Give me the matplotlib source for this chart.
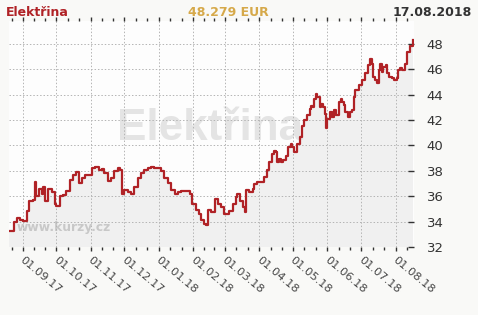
import matplotlib
matplotlib.use("Agg")
import matplotlib.pyplot as plt
import matplotlib.dates as mdates
import matplotlib.transforms as mtransforms
import pandas as pd

dates = [
"2017-08-20","2017-08-24","2017-08-27","2017-08-30","2017-09-01","2017-09-05","2017-09-07","2017-09-10",
"2017-09-12","2017-09-13","2017-09-16","2017-09-18","2017-09-19","2017-09-21","2017-09-24","2017-09-27",
"2017-09-30","2017-10-01","2017-10-04","2017-10-07","2017-10-10","2017-10-13","2017-10-16","2017-10-19",
"2017-10-21","2017-10-24","2017-10-27","2017-10-30","2017-11-02","2017-11-05","2017-11-08","2017-11-11",
"2017-11-13","2017-11-16","2017-11-19","2017-11-22","2017-11-25","2017-11-27","2017-11-29","2017-12-01",
"2017-12-04","2017-12-07","2017-12-10","2017-12-13","2017-12-16","2017-12-19","2017-12-22","2017-12-25",
"2017-12-28","2017-12-31","2018-01-03","2018-01-06","2018-01-09","2018-01-12","2018-01-15","2018-01-18",
"2018-01-21","2018-01-24","2018-01-27","2018-01-29","2018-01-31","2018-02-03","2018-02-06","2018-02-08",
"2018-02-10","2018-02-12","2018-02-14","2018-02-17","2018-02-20","2018-02-23","2018-02-26","2018-02-28",
"2018-03-05","2018-03-08","2018-03-11","2018-03-12","2018-03-15","2018-03-17","2018-03-19","2018-03-20",
"2018-03-23","2018-03-26","2018-03-27","2018-03-30","2018-04-02","2018-04-05","2018-04-08","2018-04-10",
"2018-04-12","2018-04-14","2018-04-16","2018-04-17","2018-04-19","2018-04-20","2018-04-22","2018-04-25",
"2018-04-27","2018-04-29","2018-04-30","2018-05-02","2018-05-05","2018-05-07","2018-05-09","2018-05-11",
"2018-05-14","2018-05-16","2018-05-17","2018-05-19","2018-05-20","2018-05-22","2018-05-23","2018-05-25",
"2018-05-26","2018-05-28","2018-05-30","2018-05-31","2018-06-01","2018-06-03","2018-06-05","2018-06-07",
"2018-06-09","2018-06-11","2018-06-13","2018-06-14","2018-06-16","2018-06-17","2018-06-19","2018-06-21",
"2018-06-23","2018-06-25","2018-06-26","2018-06-29","2018-07-02","2018-07-05","2018-07-07","2018-07-09",
"2018-07-11","2018-07-12","2018-07-14","2018-07-15","2018-07-17","2018-07-18","2018-07-20","2018-07-21",
"2018-07-23","2018-07-24","2018-07-26","2018-07-29","2018-07-31","2018-08-02","2018-08-03","2018-08-05",
"2018-08-07","2018-08-09","2018-08-11","2018-08-14","2018-08-17",
]
values = [
33.26,34.0,34.26,34.1,34.05,34.8,35.6,35.7,
37.15,36.0,36.55,36.2,36.7,35.6,36.55,36.3,
35.4,35.2,36.0,36.1,36.4,37.3,37.7,37.9,
37.05,37.45,37.7,37.7,38.2,38.3,38.1,38.15,
37.85,37.2,37.45,37.95,38.2,38.1,36.2,36.5,
36.35,36.2,36.7,37.45,37.85,38.1,38.25,38.3,
38.25,38.25,37.95,37.45,37.05,36.5,36.2,36.35,
36.45,36.45,36.45,36.2,35.4,34.9,34.6,34.1,
33.8,33.7,34.9,34.75,35.8,35.4,35.15,34.6,
34.85,35.4,35.95,36.2,35.65,35.15,34.75,36.5,
36.35,36.6,37.0,37.1,37.1,37.5,38.05,38.7,
39.35,39.55,39.5,38.7,38.95,38.7,38.85,39.2,
39.9,40.15,39.9,39.5,40.15,40.7,41.5,42.0,
42.4,42.9,43.1,43.05,43.7,44.05,43.8,43.05,
43.3,43.05,42.5,41.35,42.1,42.65,42.25,42.8,
42.4,43.45,43.7,43.45,43.2,42.65,42.25,42.65,
42.8,43.85,44.35,44.75,45.15,45.7,46.35,46.85,
46.45,45.4,45.15,44.9,45.95,46.45,45.8,46.2,
46.35,45.7,45.4,45.3,45.15,45.3,45.95,46.1,
45.95,46.45,47.35,47.85,48.279,
]
month_ticks = ["2017-09-01","2017-10-01","2017-11-01","2017-12-01","2018-01-01","2018-02-01",
               "2018-03-01","2018-04-01","2018-05-01","2018-06-01","2018-07-01","2018-08-01"]
month_labels = ["01.09.17","01.10.17","01.11.17","01.12.17","01.01.18","01.02.18",
                "01.03.18","01.04.18","01.05.18","01.06.18","01.07.18","01.08.18"]
y_ticks = [32, 34, 36, 38, 40, 42, 44, 46, 48]

title_name = "Elektřina"
title_value = "48.279 EUR"
title_date = "17.08.2018"
watermark_site = "www.kurzy.cz"

x = pd.to_datetime(dates)
mt = pd.to_datetime(month_ticks)

W, H = 478, 315
fig = plt.figure(figsize=(W / 100, H / 100), dpi=100, facecolor="#f9f9f7")
ax = fig.add_axes([9 / W, 1 - 247 / H, (414 - 9) / W, (247 - 21) / H])
ax.set_facecolor("#fdfdfd")

ax.set_xlim(pd.Timestamp("2017-08-19 18:00"), pd.Timestamp("2018-08-17 12:00"))
ax.set_ylim(32, 49.81)

ax.fill_between(x, values, 32, step="post", color="#f0f0f0", lw=0, zorder=1)
ax.text(117 / W, 1 - 140 / H, title_name, transform=fig.transFigure, fontsize=31.7,
        family="Liberation Sans", fontweight="bold", color="#e4e4e4", zorder=1.2,
        ha="left", va="baseline")
ax.text(17 / W, 1 - 228 / H, watermark_site, transform=fig.transFigure, fontsize=8.8,
        fontweight="bold", color="#c8c8c8", zorder=1.2, ha="left", va="center")
ax.plot(x, values, drawstyle="steps-post", color="#b02226", lw=1.6, zorder=3)

for s in ax.spines.values():
    s.set_visible(False)

ax.set_xticks(mt)
ax.set_xticklabels(month_labels)
minor = []
for i in range(len(mt) - 1):
    d0, d1 = mt[i], mt[i + 1]
    minor += [d0 + (d1 - d0) / 3, d0 + 2 * (d1 - d0) / 3]
d0 = mt[0] - (mt[1] - mt[0])
minor += [d0 + 2 * (mt[0] - d0) / 3]
minor += [mt[-1] + (mt[-1] - mt[-2]) / 3]
ax.set_xticks(minor, minor=True)

ax.tick_params(axis="x", which="major", top=True, bottom=True, direction="out",
               length=3, width=1, color="#333333", labelsize=8.2, labelcolor="#444444", pad=3)
ax.tick_params(axis="x", which="minor", top=True, bottom=True, direction="out",
               length=2, width=1, color="#333333")
offset = mtransforms.ScaledTranslation(2 / 100, 0, fig.dpi_scale_trans)
for lab in ax.get_xticklabels():
    lab.set_rotation(-40)
    lab.set_rotation_mode("anchor")
    lab.set_ha("left")
    lab.set_va("top")
    lab.set_transform(lab.get_transform() + offset)

ax.yaxis.tick_right()
ax.set_yticks(y_ticks)
ax.tick_params(axis="y", which="major", right=True, left=False, direction="in",
               length=4, width=1, color="#333333", labelsize=9.5, labelcolor="#333333", pad=9)

ax.grid(True, which="major", color="#b4b4b4", linestyle=(0, (1.5, 2)), linewidth=0.7)

fig.text(6 / W, 1 - 12 / H, title_name, fontsize=9, fontweight="bold", color="#b02226",
         ha="left", va="center")
fig.text(228 / W, 1 - 12 / H, title_value, fontsize=9, fontweight="bold", color="#d6a94a",
         ha="center", va="center")
fig.text(472 / W, 1 - 12 / H, title_date, fontsize=9, fontweight="bold", color="#333333",
         ha="right", va="center")

fig.savefig("out.png", dpi=100, facecolor=fig.get_facecolor())
